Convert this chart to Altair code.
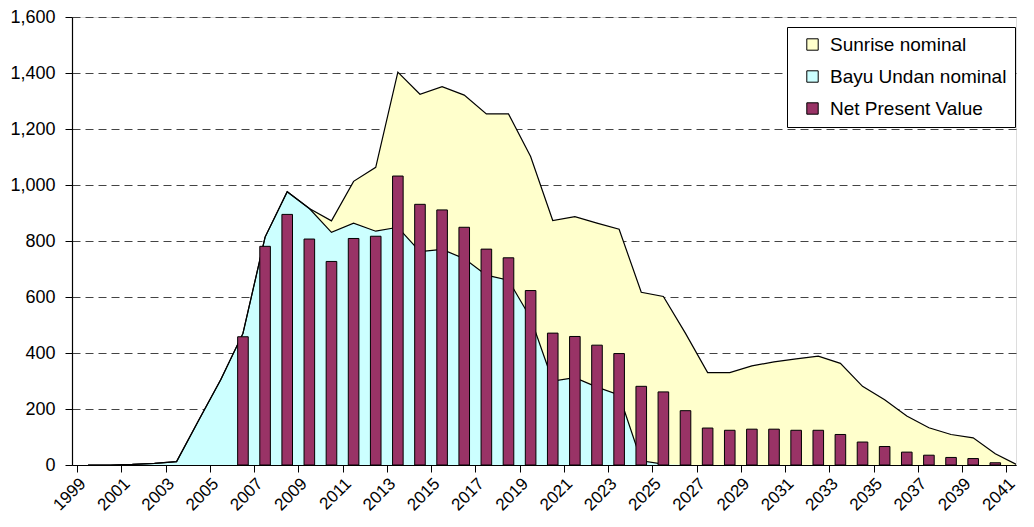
import altair as alt
import pandas as pd

# Category labels (one per year) and labelled ticks (every other year)
years = list(range(1999, 2042))
tick_years = [1999, 2001, 2003, 2005, 2007, 2009, 2011, 2013, 2015, 2017, 2019,
              2021, 2023, 2025, 2027, 2029, 2031, 2033, 2035, 2037, 2039, 2041]

# Bayu Undan nominal (bottom area)
bayu = [0, 0, 2, 6, 12, 160, 305, 470, 814, 976, 916, 831, 864, 835, 849, 762,
        770, 737, 678, 660, 525, 300, 312, 278, 250, 15, 3, 0, 0, 0, 0, 0,
        0, 0, 0, 0, 0, 0, 0, 0, 0, 0, 0]

# Sunrise nominal (stacked on top of Bayu Undan)
sunrise = [0, 0, 0, 0, 0, 0, 0, 0, 0, 0, 0, 41, 149, 228, 554, 562,
           581, 584, 576, 594, 577, 573, 575, 586, 592, 602, 599, 470, 330, 330, 354, 368,
           379, 389, 363, 281, 233, 175, 133, 109, 97, 40, 0]

# Net Present Value (bars)
npv = [0, 0, 0, 0, 0, 0, 0, 458, 781, 895, 807, 727, 809, 817, 1032, 931,
       911, 849, 771, 740, 623, 471, 459, 428, 398, 281, 261, 194, 132, 124, 128, 128,
       124, 124, 109, 82, 66, 46, 35, 27, 23, 8, 0]

series_names = ["Sunrise nominal", "Bayu Undan nominal", "Net Present Value"]
series_colors = ["#FFFFCC", "#CCFFFF", "#993366"]

rows = []
for yr, b, s, n in zip(years, bayu, sunrise, npv):
    pos = yr + 0.5
    rows.append({"pos": pos, "series": series_names[0], "value": b + s})
    rows.append({"pos": pos, "series": series_names[1], "value": b})
    rows.append({"pos": pos, "series": series_names[2], "value": n})
df = pd.DataFrame(rows)

FONT = "Liberation Sans"

x_axis = alt.Axis(
    values=tick_years, format="d", title=None, labelAngle=315,
    labelAlign="right", labelBaseline="top", labelPadding=3,
    labelFontSize=17, labelFont=FONT, labelColor="black",
    tickSize=7, tickColor="black", domainColor="black", domainWidth=1.2,
    grid=False, labelOverlap=False, labelFlush=False, labelBound=False,
)

x_enc = alt.X(
    "pos:Q",
    scale=alt.Scale(domain=[1999, 2041.21], nice=False, zero=False),
    axis=x_axis,
)
y_enc = alt.Y(
    "value:Q",
    scale=alt.Scale(domain=[0, 1600], nice=False),
    axis=alt.Axis(
        values=[0, 200, 400, 600, 800, 1000, 1200, 1400, 1600], format=",.0f",
        title=None, labelFontSize=18, labelFont=FONT, labelColor="black",
        labelPadding=10, tickSize=7, tickColor="black", domainColor="black",
        domainWidth=1.2, grid=True, gridDash=[8, 5], gridColor="#444444",
        gridWidth=1, labelFlush=False,
    ),
)
color_enc = alt.Color(
    "series:N",
    scale=alt.Scale(domain=series_names, range=series_colors),
    legend=alt.Legend(
        title=None, orient="none", legendX=715, legendY=10,
        symbolType="square", symbolSize=130, symbolStrokeColor="black",
        symbolStrokeWidth=1, symbolOffset=8, labelOffset=8,
        labelFontSize=19, labelFont=FONT, labelColor="black", labelLimit=400,
        padding=8, rowPadding=12, strokeColor="black", fillColor="white",
    ),
)

base = alt.Chart(df)

sun_area = base.transform_filter(alt.datum.series == series_names[0]).mark_area(
    opacity=1, clip=True
).encode(x=x_enc, y=y_enc, color=color_enc)

bayu_area = base.transform_filter(alt.datum.series == series_names[1]).mark_area(
    opacity=1, clip=True
).encode(x=x_enc, y=y_enc, color=color_enc)

sun_line = base.transform_filter(alt.datum.series == series_names[0]).mark_line(
    color="black", strokeWidth=1.2, clip=True
).encode(x=x_enc, y=y_enc)

bayu_line = base.transform_filter(
    (alt.datum.series == series_names[1]) & (alt.datum.pos < 2026)
).mark_line(color="black", strokeWidth=1.2, clip=True).encode(x=x_enc, y=y_enc)

bars = base.transform_filter(
    (alt.datum.series == series_names[2]) & (alt.datum.value > 0)
).mark_bar(size=10.6, stroke="black", strokeWidth=1, opacity=1, clip=True).encode(
    x=x_enc, y=y_enc, color=color_enc
)

chart = (
    alt.layer(sun_area, bayu_area, sun_line, bayu_line, bars)
    .properties(
        width=944,
        height=448,
        autosize=alt.AutoSizeParams(type="none"),
        padding={"left": 64, "top": 9, "right": 10, "bottom": 54},
    )
    .configure_view(strokeWidth=0)
    .configure(font=FONT)
    .configure_axisX(labelAngle=315, labelAlign="right", labelBaseline="top")
)

chart.save("out.html", embed_options={"renderer": "svg", "actions": False})
